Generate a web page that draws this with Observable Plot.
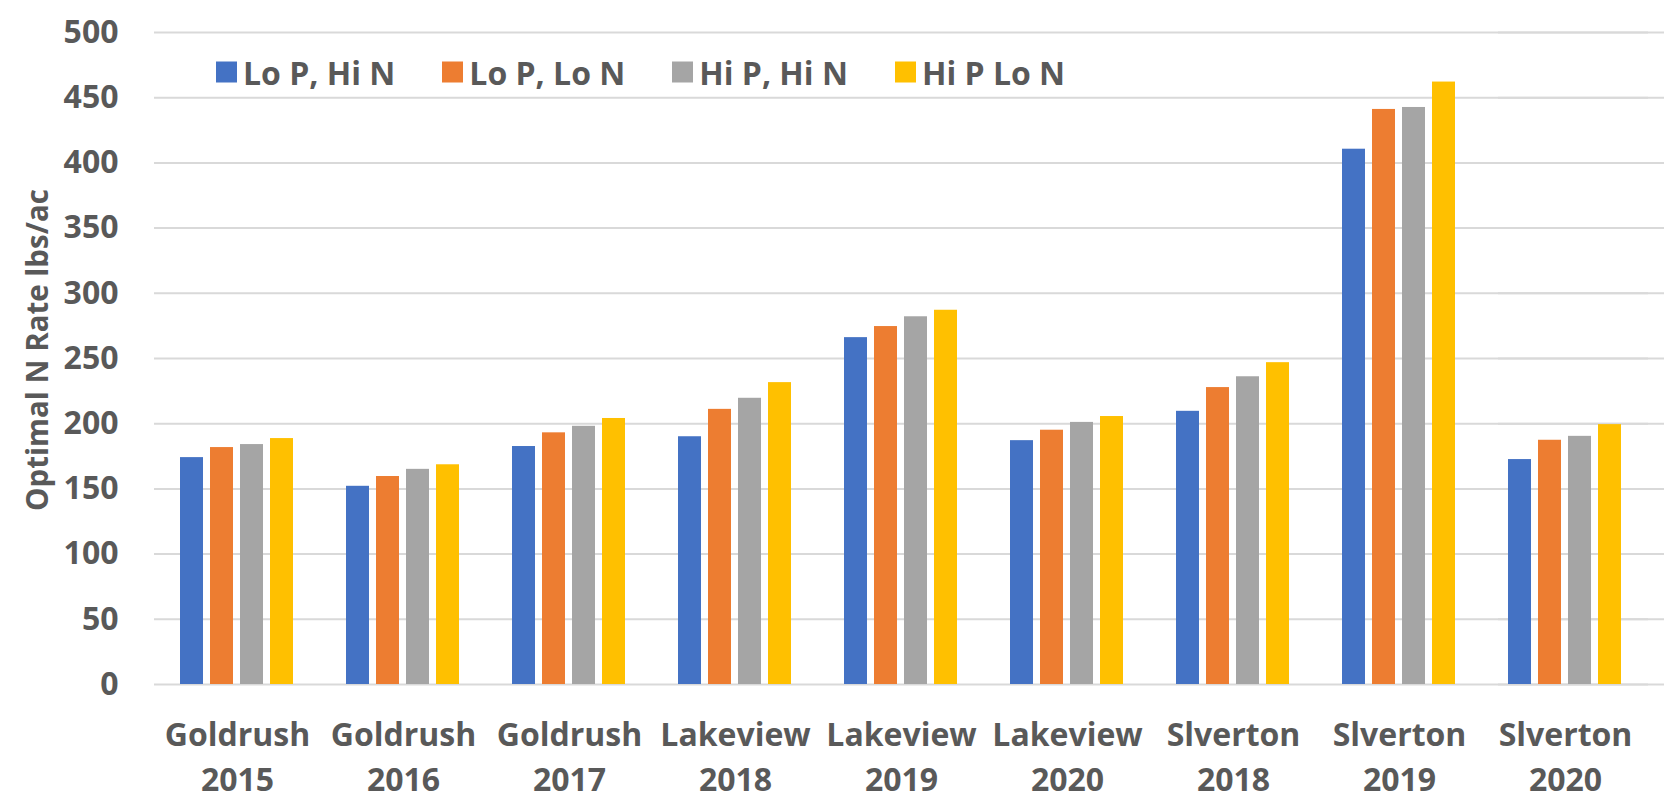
<!DOCTYPE html>
<html>
<head>
<meta charset="utf-8">
<script src="https://cdn.jsdelivr.net/npm/d3@7"></script>
<script src="https://cdn.jsdelivr.net/npm/@observablehq/plot@0.6"></script>
<style>
  body { margin: 0; background: #fff; }
  #wrap { position: relative; width: 1664px; height: 808px; font-family: "Open Sans", sans-serif; color: #595959; overflow: hidden; }
  #legend { position: absolute; left: 216px; top: 72px; transform: translateY(-50%); display: flex; align-items: center; font-weight: 700; font-size: 32px; white-space: nowrap; }
  .item { display: flex; align-items: center; margin-right: 47px; }
  .sw { width: 21px; height: 21px; margin-right: 6px; }
  #ylabel { position: absolute; left: 36px; top: 350px; transform: translate(-50%, -50%) rotate(-90deg); font-weight: 700; font-size: 29.5px; white-space: nowrap; }
  #chart { position: absolute; left: 0; top: 0; }
</style>
</head>
<body>
<div id="wrap">
  <div id="chart"></div>
  <div id="legend"></div>
  <div id="ylabel">Optimal N Rate lbs/ac</div>
</div>
<script>
const sites = ["Goldrush", "Goldrush", "Goldrush", "Lakeview", "Lakeview", "Lakeview", "Slverton", "Slverton", "Slverton"];
const years = ["2015", "2016", "2017", "2018", "2019", "2020", "2018", "2019", "2020"];
const series = ["Lo P, Hi N", "Lo P, Lo N", "Hi P, Hi N", "Hi P Lo N"];
const colors = ["#4472C4", "#ED7D31", "#A5A5A5", "#FFC000"];
const loPHiN = [174, 152, 182.5, 190, 266, 187, 209.5, 410.5, 172.5];
const loPLoN = [181.7, 159.5, 193, 211, 274.5, 195, 227.7, 441, 187.3];
const hiPHiN = [184, 165, 198, 219.5, 282, 201, 236, 442.5, 190.3];
const hiPLoN = [188.6, 168.5, 204, 231.5, 287, 205.5, 246.8, 462, 199.3];
const yTicks = [0, 50, 100, 150, 200, 250, 300, 350, 400, 450, 500];

const cats = sites.map((s, i) => `${s}\n${years[i]}`);
const values = [loPHiN, loPLoN, hiPHiN, hiPLoN];
const data = [];
cats.forEach((c, i) => series.forEach((k, j) => data.push({cat: c, series: k, value: values[j][i]})));

const gridStyle = {stroke: "#d9d9d9", strokeOpacity: 1, strokeWidth: 2};

const chart = Plot.plot({
  width: 1664,
  height: 808,
  marginLeft: 153,
  marginRight: 16,
  marginTop: 32,
  marginBottom: 124,
  style: {fontFamily: "Open Sans", color: "#595959", background: "transparent", overflow: "visible"},
  fx: {domain: cats, padding: 0, label: null},
  x: {domain: series, axis: null, paddingInner: 0.23, paddingOuter: 0.855},
  y: {domain: [0, 500], label: null},
  color: {domain: series, range: colors},
  marks: [
    Plot.gridY(yTicks, gridStyle),
    Plot.ruleY(yTicks, {...gridStyle, dx: 16, facetAnchor: "right"}),
    Plot.barY(data, {fx: "cat", x: "series", y: "value", fill: "series"}),
    Plot.axisY(yTicks, {tickSize: 0, tickPadding: 36, fontSize: 32, fontWeight: 700, label: null, fill: "#595959"}),
    Plot.axisFx({anchor: "bottom", tickSize: 0, tickPadding: 29, fontSize: 32, fontWeight: 700, lineHeight: 1.41, label: null, fill: "#595959"})
  ]
});
document.getElementById("chart").appendChild(chart);

const legend = document.getElementById("legend");
series.forEach((s, i) => {
  const item = document.createElement("div");
  item.className = "item";
  const sw = document.createElement("div");
  sw.className = "sw";
  sw.style.background = colors[i];
  const t = document.createElement("span");
  t.textContent = s;
  item.appendChild(sw);
  item.appendChild(t);
  legend.appendChild(item);
});
</script>
</body>
</html>
